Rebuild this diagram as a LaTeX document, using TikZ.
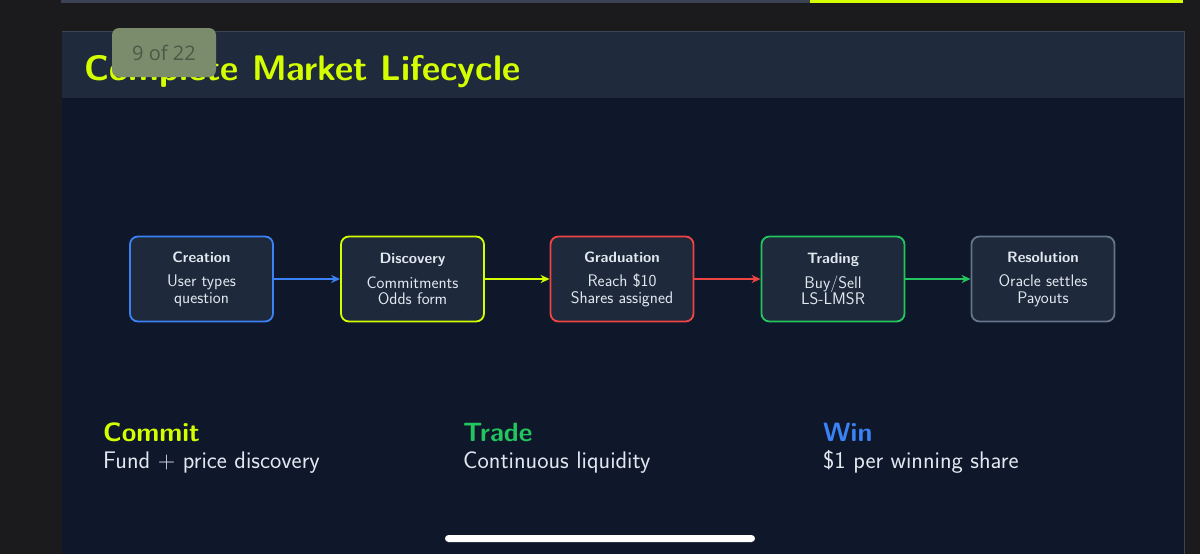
\documentclass[tikz,border=0pt]{standalone}
\usepackage{fontspec}
\newfontfamily\badgefont{Open Sans}
\usetikzlibrary{arrows.meta}
\definecolor{outerbg}{HTML}{1B1B1D}
\definecolor{titlebar}{HTML}{1F2A3D}
\definecolor{bodybg}{HTML}{0F172A}
\definecolor{boxfill}{HTML}{1E293B}
\definecolor{lime}{HTML}{D4FF00}
\definecolor{cblue}{HTML}{3B82F6}
\definecolor{cred}{HTML}{EF4444}
\definecolor{cgreen}{HTML}{22C55E}
\definecolor{cgray}{HTML}{64748B}
\definecolor{txt}{HTML}{E2E8F0}
\definecolor{edge}{HTML}{3A4254}
\definecolor{badgefill}{HTML}{7A8C6B}
\definecolor{badgetxt}{HTML}{4B5A47}
\begin{document}
\begin{tikzpicture}[x=1pt,y=-1pt,
  stage/.style={draw=#1, line width=1.8pt, fill=boxfill, rounded corners=8pt,
    minimum width=143pt, minimum height=85pt, inner sep=0pt, align=center,
    text=txt, font=\sffamily\fontsize{16.8}{16.5}\selectfont},
  flow/.style={draw=#1, line width=1.9pt, -{Stealth[length=9pt,width=8pt]}},
  headword/.style={anchor=base west, font=\sffamily\bfseries\fontsize{26.5}{30}\selectfont, inner sep=0pt},
  subword/.style={anchor=base west, text=txt, font=\sffamily\fontsize{24}{28}\selectfont, inner sep=0pt}]
\useasboundingbox (0,0) rectangle (1200,554);
\fill[outerbg] (0,0) rectangle (1200,554);
% previous slide edge and progress bar
\fill[edge] (61,0) rectangle (810,2.5);
\fill[lime] (810,0) rectangle (1183,2.5);
% slide
\fill[bodybg] (62,31) rectangle (1184,554);
\fill[titlebar] (62,31) rectangle (1184,98);
\draw[edge, line width=0.8pt] (62,31) -- (1184,31);
\draw[edge, line width=1pt] (1184,31) -- (1184,554);
\node[anchor=base west, text=lime, inner sep=0pt,
  font=\sffamily\bfseries\fontsize{35.5}{40}\selectfont] (title) at (84,80) {Complete Market Lifecycle};
% badge
\node[fill=badgefill, rounded corners=7pt, minimum width=104pt, minimum height=49pt,
  text=badgetxt, font=\badgefont\fontsize{20}{24}\selectfont, inner sep=0pt] (badge) at (164,52.5) {9 of 22};
% stages
\node[stage=cblue] (creation) at (201.5,279) {\textbf{\fontsize{15}{16}\selectfont Creation}\\[8pt]User types\\question};
\node[stage=lime] (discovery) at (412.5,279) {\textbf{\fontsize{15}{16}\selectfont Discovery}\\[8pt]Commitments\\Odds form};
\node[stage=cred] (graduation) at (622,279) {\textbf{\fontsize{15}{16}\selectfont Graduation}\\[8pt]Reach \$10\\Shares assigned};
\node[stage=cgreen] (trading) at (833,279) {\textbf{\fontsize{15}{16}\selectfont Trading}\\[8pt]Buy/Sell\\LS-LMSR};
\node[stage=cgray] (resolution) at (1043,279) {\textbf{\fontsize{15}{16}\selectfont Resolution}\\[8pt]Oracle settles\\Payouts};
\draw[flow=cblue] (creation) -- (discovery);
\draw[flow=lime] (discovery) -- (graduation);
\draw[flow=cred] (graduation) -- (trading);
\draw[flow=cgreen] (trading) -- (resolution);
% bottom summary
\node[headword, text=lime] (commit) at (103,441) {Commit};
\node[subword] (commitsub) at (103,468) {Fund + price discovery};
\node[headword, text=cgreen] (trade) at (463,441) {Trade};
\node[subword] (tradesub) at (463,468) {Continuous liquidity};
\node[headword, text=cblue] (win) at (823,441) {Win};
\node[subword] (winsub) at (823,468) {\$1 per winning share};
% home indicator
\fill[white, rounded corners=3.5pt] (445,535) rectangle (755,542);
\end{tikzpicture}
\end{document}
